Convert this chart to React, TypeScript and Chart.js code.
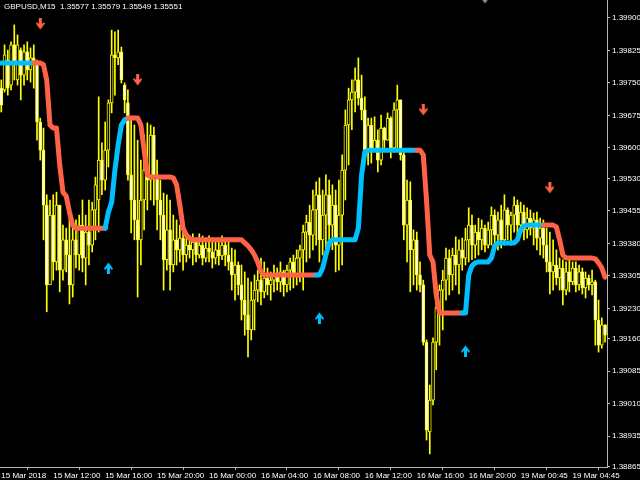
import React, { useEffect, useRef } from 'react';
import { Chart, registerables } from 'chart.js';

Chart.register(...registerables);

const TITLE = 'GBPUSD,M15  1.35577 1.35579 1.35549 1.35551';

const xTickIndex = [0, 16, 32, 48, 64, 80, 96, 112, 128, 144, 160, 176];
const xTickLabels = [
  '15 Mar 2018', '15 Mar 12:00', '15 Mar 16:00', '15 Mar 20:00', '16 Mar 00:00', '16 Mar 04:00',
  '16 Mar 08:00', '16 Mar 12:00', '16 Mar 16:00', '16 Mar 20:00', '19 Mar 00:45', '19 Mar 04:45',
];
const yTicks = [
  1.399, 1.39825, 1.3975, 1.39675, 1.396, 1.3953, 1.39455, 1.3938, 1.39305, 1.3923, 1.3916, 1.39085,
  1.3901, 1.38935, 1.38865,
];

const high = [
  1.39757, 1.39838, 1.39826, 1.39845, 1.39884, 1.39861, 1.39831, 1.39838, 1.39845, 1.39831,
  1.39838, 1.39803, 1.39669, 1.39646, 1.39492, 1.3948, 1.39492, 1.39498, 1.39468, 1.39422,
  1.39415, 1.39445, 1.39422, 1.39434, 1.39445, 1.3948, 1.39445, 1.3948, 1.39475, 1.39533,
  1.39718, 1.39612, 1.3966, 1.39711, 1.39872, 1.39868, 1.39872, 1.39833, 1.3975, 1.39734,
  1.39665, 1.39653, 1.39618, 1.39572, 1.3963, 1.39658, 1.39653, 1.39648, 1.39572, 1.39526,
  1.39496, 1.39492, 1.3948, 1.39445, 1.39434, 1.39422, 1.39406, 1.39402, 1.39397, 1.39402,
  1.39392, 1.39402, 1.39397, 1.39392, 1.39397, 1.39388, 1.39388, 1.39392, 1.39397, 1.39388,
  1.39388, 1.39369, 1.39365, 1.39337, 1.3933, 1.39314, 1.393, 1.39291, 1.39307, 1.39318,
  1.39346, 1.39337, 1.39323, 1.39314, 1.3933, 1.39323, 1.39337, 1.39318, 1.3933, 1.39346,
  1.39353, 1.39365, 1.39376, 1.39422, 1.39445, 1.39468, 1.39503, 1.39522, 1.39531, 1.39503,
  1.39538, 1.39526, 1.39515, 1.39503, 1.39526, 1.39584, 1.39688, 1.39738, 1.39757, 1.39785,
  1.39808, 1.39768, 1.39718, 1.39669, 1.39669, 1.39672, 1.39642, 1.39676, 1.39648, 1.39681,
  1.39672, 1.39704, 1.39745, 1.39711, 1.39591, 1.39526, 1.39522, 1.39411, 1.39406, 1.39337,
  1.39295, 1.39157, 1.39053, 1.39162, 1.39249, 1.39284, 1.39318, 1.39369, 1.39365, 1.39369,
  1.39395, 1.39388, 1.39392, 1.39415, 1.39462, 1.39445, 1.39422, 1.39438, 1.39434, 1.39422,
  1.39429, 1.39464, 1.39457, 1.39452, 1.39468, 1.39492, 1.39462, 1.39452, 1.39487, 1.3948,
  1.39475, 1.39468, 1.39462, 1.39457, 1.3945, 1.39452, 1.39438, 1.39434, 1.39415, 1.39406,
  1.39388, 1.39365, 1.39346, 1.39342, 1.39337, 1.39346, 1.39337, 1.39337, 1.3933, 1.39323,
  1.39314, 1.39307, 1.39318, 1.39295, 1.39249, 1.39208, 1.39192,
];

const low = [
  1.39683, 1.39729, 1.39722, 1.39734, 1.39757, 1.39745, 1.39711, 1.39745, 1.39757, 1.39752,
  1.39738, 1.39618, 1.39572, 1.39388, 1.39222, 1.39291, 1.39295, 1.39318, 1.39268, 1.39295,
  1.39314, 1.3924, 1.39256, 1.39323, 1.39318, 1.39314, 1.39284, 1.3933, 1.3936, 1.39388,
  1.39406, 1.39492, 1.39503, 1.39556, 1.39681, 1.39722, 1.39792, 1.3975, 1.39681, 1.39526,
  1.39404, 1.39388, 1.39256, 1.3933, 1.39411, 1.39457, 1.3948, 1.39468, 1.39411, 1.39388,
  1.39272, 1.39318, 1.39272, 1.39314, 1.3933, 1.39337, 1.39318, 1.39337, 1.39346, 1.3933,
  1.39337, 1.39346, 1.3933, 1.39337, 1.39337, 1.39323, 1.39332, 1.3933, 1.39342, 1.39328,
  1.39318, 1.39272, 1.39249, 1.39261, 1.39203, 1.39168, 1.39118, 1.39157, 1.3918, 1.39245,
  1.39238, 1.39254, 1.39261, 1.39249, 1.39268, 1.39272, 1.39268, 1.39258, 1.39268, 1.39272,
  1.39277, 1.39284, 1.39291, 1.39272, 1.39337, 1.39346, 1.39365, 1.39376, 1.39337, 1.39353,
  1.39369, 1.39388, 1.39365, 1.39314, 1.39318, 1.3933, 1.3948, 1.39561, 1.39642, 1.39683,
  1.39699, 1.39665, 1.39572, 1.39561, 1.39565, 1.39591, 1.39545, 1.39561, 1.396, 1.39618,
  1.39577, 1.39591, 1.39595, 1.39572, 1.39388, 1.39337, 1.39268, 1.39284, 1.39272, 1.39268,
  1.39145, 1.38926, 1.38894, 1.39007, 1.39088, 1.39145, 1.3918, 1.39249, 1.39261, 1.39272,
  1.39284, 1.39263, 1.39318, 1.3933, 1.39337, 1.39342, 1.39346, 1.39353, 1.39365, 1.3936,
  1.39369, 1.39376, 1.39376, 1.39365, 1.39369, 1.39376, 1.39388, 1.39376, 1.39406, 1.39388,
  1.39406, 1.39388, 1.39392, 1.39399, 1.39376, 1.39365, 1.39353, 1.39346, 1.39314, 1.39263,
  1.39272, 1.39284, 1.39272, 1.39238, 1.39261, 1.39268, 1.39284, 1.39268, 1.39272, 1.39263,
  1.39254, 1.39272, 1.39261, 1.39145, 1.39129, 1.39138, 1.39152,
];

const open = [
  1.39738, 1.39734, 1.39803, 1.39745, 1.39838, 1.39757, 1.39826, 1.39768, 1.39822, 1.3978,
  1.39808, 1.39798, 1.3966, 1.39595, 1.39468, 1.39284, 1.39445, 1.39337, 1.39468, 1.39318,
  1.39388, 1.39353, 1.39284, 1.39388, 1.39353, 1.39422, 1.39346, 1.39406, 1.39376, 1.39457,
  1.3948, 1.39572, 1.39526, 1.39595, 1.39704, 1.39815, 1.39808, 1.39822, 1.39745, 1.39704,
  1.39538, 1.3948, 1.39434, 1.39388, 1.3948, 1.39549, 1.39526, 1.3963, 1.39538, 1.3948,
  1.39445, 1.39342, 1.39411, 1.3933, 1.39388, 1.39365, 1.39392, 1.39353, 1.39376, 1.39365,
  1.39383, 1.39353, 1.39376, 1.39346, 1.39369, 1.3936, 1.39346, 1.39365, 1.39351, 1.39376,
  1.39353, 1.39337, 1.39307, 1.3933, 1.39284, 1.39249, 1.39215, 1.3918, 1.39249, 1.39272,
  1.39295, 1.39268, 1.393, 1.39284, 1.39295, 1.39307, 1.39291, 1.39314, 1.39284, 1.39318,
  1.39337, 1.39307, 1.39346, 1.39365, 1.39406, 1.39429, 1.39399, 1.39457, 1.39492, 1.39388,
  1.39445, 1.39492, 1.39422, 1.39468, 1.39376, 1.39445, 1.39549, 1.39653, 1.39711, 1.39729,
  1.39757, 1.39715, 1.39688, 1.39595, 1.39653, 1.39595, 1.39618, 1.39572, 1.39646, 1.39618,
  1.39669, 1.396, 1.39688, 1.39711, 1.39584, 1.39422, 1.3948, 1.39365, 1.39388, 1.39307,
  1.39284, 1.39152, 1.38945, 1.39018, 1.39152, 1.39231, 1.39272, 1.39295, 1.39346, 1.39307,
  1.39353, 1.3933, 1.39365, 1.39346, 1.39388, 1.39422, 1.39376, 1.39406, 1.39388, 1.39415,
  1.39376, 1.39411, 1.39445, 1.39399, 1.39434, 1.39388, 1.39457, 1.39422, 1.39445, 1.39468,
  1.39422, 1.39452, 1.39411, 1.39438, 1.39415, 1.39434, 1.39392, 1.39415, 1.39376, 1.39337,
  1.39314, 1.3933, 1.393, 1.39323, 1.39272, 1.39314, 1.39291, 1.39323, 1.39284, 1.39314,
  1.39277, 1.393, 1.39284, 1.39291, 1.39203, 1.39145, 1.39192,
];

const close = [
  1.39699, 1.39815, 1.39738, 1.39838, 1.39798, 1.39838, 1.39768, 1.39822, 1.3978, 1.39808,
  1.39798, 1.3966, 1.39595, 1.39468, 1.39284, 1.39445, 1.39337, 1.39468, 1.39318, 1.39388,
  1.39353, 1.39284, 1.39388, 1.39353, 1.39422, 1.39346, 1.39406, 1.39376, 1.39457, 1.39515,
  1.39572, 1.39526, 1.39595, 1.39704, 1.39815, 1.39808, 1.39822, 1.39757, 1.39711, 1.39538,
  1.3948, 1.39434, 1.39388, 1.3948, 1.39549, 1.39526, 1.3963, 1.39538, 1.3948, 1.39445,
  1.39342, 1.39411, 1.3933, 1.39388, 1.39365, 1.39392, 1.39353, 1.39376, 1.39365, 1.39383,
  1.39353, 1.39376, 1.39346, 1.39369, 1.3936, 1.39346, 1.39365, 1.39351, 1.39376, 1.39353,
  1.39337, 1.39307, 1.3933, 1.39284, 1.39249, 1.39215, 1.3918, 1.39249, 1.39272, 1.39295,
  1.39268, 1.393, 1.39284, 1.39295, 1.39307, 1.39291, 1.39314, 1.39284, 1.39318, 1.39337,
  1.39307, 1.39346, 1.39365, 1.39406, 1.39429, 1.39399, 1.39457, 1.39492, 1.39388, 1.39445,
  1.39492, 1.39422, 1.39468, 1.39376, 1.39445, 1.39549, 1.39653, 1.39711, 1.39729, 1.39757,
  1.39715, 1.39688, 1.39595, 1.39653, 1.39595, 1.39618, 1.39572, 1.39646, 1.39618, 1.39669,
  1.396, 1.39688, 1.39711, 1.39584, 1.39422, 1.3948, 1.39365, 1.39388, 1.39307, 1.39284,
  1.39152, 1.38949, 1.39018, 1.39152, 1.39231, 1.39272, 1.39295, 1.39346, 1.39307, 1.39353,
  1.3933, 1.39365, 1.39346, 1.39388, 1.39422, 1.39376, 1.39406, 1.39388, 1.39415, 1.39376,
  1.39411, 1.39445, 1.39399, 1.39434, 1.39388, 1.39457, 1.39422, 1.39445, 1.39468, 1.39422,
  1.39452, 1.39411, 1.39438, 1.39415, 1.39434, 1.39392, 1.39415, 1.39376, 1.39337, 1.39314,
  1.3933, 1.393, 1.39323, 1.39272, 1.39314, 1.39291, 1.39323, 1.39284, 1.39314, 1.39277,
  1.393, 1.39284, 1.39291, 1.39203, 1.39145, 1.39192, 1.39168,
];

const trendLine = [
  1.39796, 1.39796, 1.39796, 1.39796, 1.39796, 1.39796, 1.39796, 1.39796, 1.39796, 1.39796,
  1.39796, 1.39796, 1.39796, 1.39792, 1.39757, 1.39653, 1.39646, 1.39646, 1.39561, 1.39498,
  1.39489, 1.39452, 1.39422, 1.39415, 1.39415, 1.39415, 1.39415, 1.39415, 1.39415, 1.39415,
  1.39415, 1.39415, 1.39415, 1.39452, 1.39475, 1.39549, 1.39607, 1.39653, 1.39665, 1.39669,
  1.39669, 1.39669, 1.39669, 1.39653, 1.39595, 1.39538, 1.39533, 1.39533, 1.39533, 1.39533,
  1.39533, 1.39533, 1.39533, 1.39531, 1.39515, 1.39468, 1.39415, 1.39399, 1.39392, 1.39388,
  1.39388, 1.39388, 1.39388, 1.39388, 1.39388, 1.39388, 1.39388, 1.39388, 1.39388, 1.39388,
  1.39388, 1.39388, 1.39388, 1.39388, 1.39388, 1.39381, 1.39374, 1.39365, 1.39353, 1.39337,
  1.39314, 1.39307, 1.39307, 1.39307, 1.39307, 1.39307, 1.39307, 1.39307, 1.39307, 1.39307,
  1.39307, 1.39307, 1.39307, 1.39307, 1.39307, 1.39307, 1.39307, 1.39307, 1.39307, 1.39323,
  1.39353, 1.39381, 1.39388, 1.39388, 1.39388, 1.39388, 1.39388, 1.39388, 1.39388, 1.39388,
  1.39415, 1.39538, 1.39591, 1.39595, 1.39595, 1.39595, 1.39595, 1.39595, 1.39595, 1.39595,
  1.39595, 1.39595, 1.39595, 1.39595, 1.39595, 1.39595, 1.39595, 1.39595, 1.39595, 1.39595,
  1.39584, 1.3948, 1.39353, 1.39337, 1.39261, 1.39219, 1.39219, 1.39219, 1.39219, 1.39219,
  1.39219, 1.39219, 1.39219, 1.39219, 1.39307, 1.39328, 1.39335, 1.39337, 1.39337, 1.39337,
  1.39337, 1.39346, 1.39374, 1.39381, 1.39381, 1.39381, 1.39381, 1.39381, 1.39381, 1.39388,
  1.39411, 1.3942, 1.39422, 1.39422, 1.39422, 1.39422, 1.39422, 1.39422, 1.39422, 1.39422,
  1.39422, 1.39418, 1.39388, 1.39353, 1.39346, 1.39346, 1.39346, 1.39346, 1.39346, 1.39346,
  1.39346, 1.39346, 1.39346, 1.39344, 1.39335, 1.39323, 1.39302,
];

// U = up trend (blue), D = down trend (red), one letter per bar
const trendDir = [
  'UUUUUUUUUU', 'UDDDDDDDDD', 'DDDDDDDDDD', 'DDDUUUUUUU', 'DDDDDDDDDD',
  'DDDDDDDDDD', 'DDDDDDDDDD', 'DDDDDDDDDD', 'DDDDDDDDDD', 'DDDDDDDDUU',
  'UUUUUUUUUU', 'UUUUUUUUUU', 'UUUUUUUUUD', 'DDDDDDDDDD', 'DDDUUUUUUU',
  'UUUUUUUUUU', 'UUUUUUUUDD', 'DDDDDDDDDD', 'DDDDDDD',
].join('');

const sellArrowBar = [12, 42, 130, 169];
const sellArrowPrice = [1.39886, 1.39757, 1.39688, 1.39508];
const buyArrowBar = [33, 98, 143];
const buyArrowPrice = [1.39323, 1.39208, 1.39132];
const markerBar = [149];
const markerPrice = [1.39946];

const Y_MAX = 1.399415;
const Y_MIN = 1.388638;

const YELLOW = '#ffff00';
const BLUE = '#00bfff';
const RED = '#ff6347';
const AXIS = '#b4b4b4';
const FONT = '"Liberation Sans", Arial, sans-serif';

function arrowImage(color: string, down: boolean): HTMLCanvasElement {
  const c = document.createElement('canvas');
  c.width = 9;
  c.height = 12;
  const g = c.getContext('2d')!;
  const pts = [[3, 0], [6, 0], [6, 6], [8, 4], [9, 5.5], [4.5, 11.5], [0, 5.5], [1, 4], [3, 6]];
  g.fillStyle = color;
  g.beginPath();
  pts.forEach(([x, y], k) => {
    const yy = down ? y : 12 - y;
    if (k === 0) g.moveTo(x, yy);
    else g.lineTo(x, yy);
  });
  g.closePath();
  g.fill();
  return c;
}

export default function App() {
  const ref = useRef<HTMLCanvasElement | null>(null);

  useEffect(() => {
    document.body.style.margin = '0';
    document.body.style.background = '#000';
    const canvas = ref.current;
    if (!canvas) return;

    const bgPlugin = {
      id: 'bgAndTitle',
      beforeDraw(chart: any) {
        const ctx = chart.ctx;
        ctx.save();
        ctx.fillStyle = '#000';
        ctx.fillRect(0, 0, chart.width, chart.height);
        ctx.restore();
      },
      afterDraw(chart: any) {
        const ctx = chart.ctx;
        ctx.save();
        ctx.font = '8px ' + FONT;
        ctx.fillStyle = '#ffffff';
        ctx.textBaseline = 'top';
        ctx.fillText(TITLE, 4, 3);
        ctx.restore();
      },
    };

    const idx = high.map((_, i) => i);

    const chart = new Chart(canvas, {
      type: 'line',
      data: {
        datasets: [
          {
            type: 'line',
            data: sellArrowBar.map((b, k) => ({ x: b, y: sellArrowPrice[k] })),
            showLine: false,
            pointStyle: arrowImage(RED, true) as any,
            pointRadius: 7,
            order: 0,
          },
          {
            type: 'line',
            data: buyArrowBar.map((b, k) => ({ x: b, y: buyArrowPrice[k] })),
            showLine: false,
            pointStyle: arrowImage(BLUE, false) as any,
            pointRadius: 7,
            order: 0,
          },
          {
            type: 'line',
            data: markerBar.map((b, k) => ({ x: b, y: markerPrice[k] })),
            showLine: false,
            pointStyle: arrowImage('#8a9098', true) as any,
            pointRadius: 7,
            order: 0,
          },
          {
            type: 'line',
            data: idx.map((i) => ({ x: i, y: trendLine[i] })),
            borderWidth: 5,
            borderColor: RED,
            pointRadius: 0,
            tension: 0,
            borderJoinStyle: 'round',
            borderCapStyle: 'round',
            segment: {
              borderColor: (ctx: any) => (trendDir[ctx.p1DataIndex] === 'U' ? BLUE : RED),
            },
            order: 1,
          },
          {
            type: 'bar',
            data: idx.map((i) => ({ x: i, y: [open[i], close[i]] })) as any,
            barThickness: 3,
            backgroundColor: idx.map((i) => (close[i] >= open[i] ? '#000000' : '#ffffff')),
            borderColor: YELLOW,
            borderWidth: 1,
            borderSkipped: false,
            grouped: false,
            order: 2,
          },
          {
            type: 'bar',
            data: idx.map((i) => ({ x: i, y: [low[i], high[i]] })) as any,
            barThickness: 1,
            backgroundColor: YELLOW,
            borderWidth: 0,
            grouped: false,
            order: 3,
          },
        ] as any,
      },
      options: {
        responsive: false,
        animation: false,
        events: [],
        layout: { padding: 0, autoPadding: false },
        plugins: {
          legend: { display: false },
          tooltip: { enabled: false },
          title: { display: false },
        },
        scales: {
          x: {
            type: 'linear',
            position: 'bottom',
            min: -0.4,
            max: 186.6,
            offset: false,
            afterBuildTicks: (s: any) => {
              s.ticks = xTickIndex.map((v) => ({ value: v }));
            },
            afterFit: (s: any) => {
              s.height = 13;
              s.paddingLeft = 0;
              s.paddingRight = 0;
            },
            grid: { display: true, drawOnChartArea: false, drawTicks: true, tickLength: 3, color: AXIS },
            border: { display: true, color: AXIS, width: 1 },
            ticks: {
              autoSkip: false,
              maxRotation: 0,
              minRotation: 0,
              align: 'start',
              padding: 1,
              color: '#ffffff',
              font: { family: FONT, size: 8 },
              callback: (_v: any, i: number) => xTickLabels[i],
            },
          },
          y: {
            type: 'linear',
            position: 'right',
            min: Y_MIN,
            max: Y_MAX,
            afterBuildTicks: (s: any) => {
              s.ticks = yTicks.map((v) => ({ value: v }));
            },
            afterFit: (s: any) => {
              s.width = 33;
              s.paddingTop = 0;
              s.paddingBottom = 0;
            },
            grid: { display: true, drawOnChartArea: false, drawTicks: true, tickLength: 3, color: AXIS },
            border: { display: true, color: AXIS, width: 1 },
            ticks: {
              autoSkip: false,
              padding: 2,
              color: '#ffffff',
              font: { family: FONT, size: 8 },
              callback: (v: any) => Number(v).toFixed(5),
            },
          },
        },
      } as any,
      plugins: [bgPlugin],
    });

    return () => chart.destroy();
  }, []);

  return <canvas ref={ref} width={640} height={480} style={{ display: 'block' }} />;
}
